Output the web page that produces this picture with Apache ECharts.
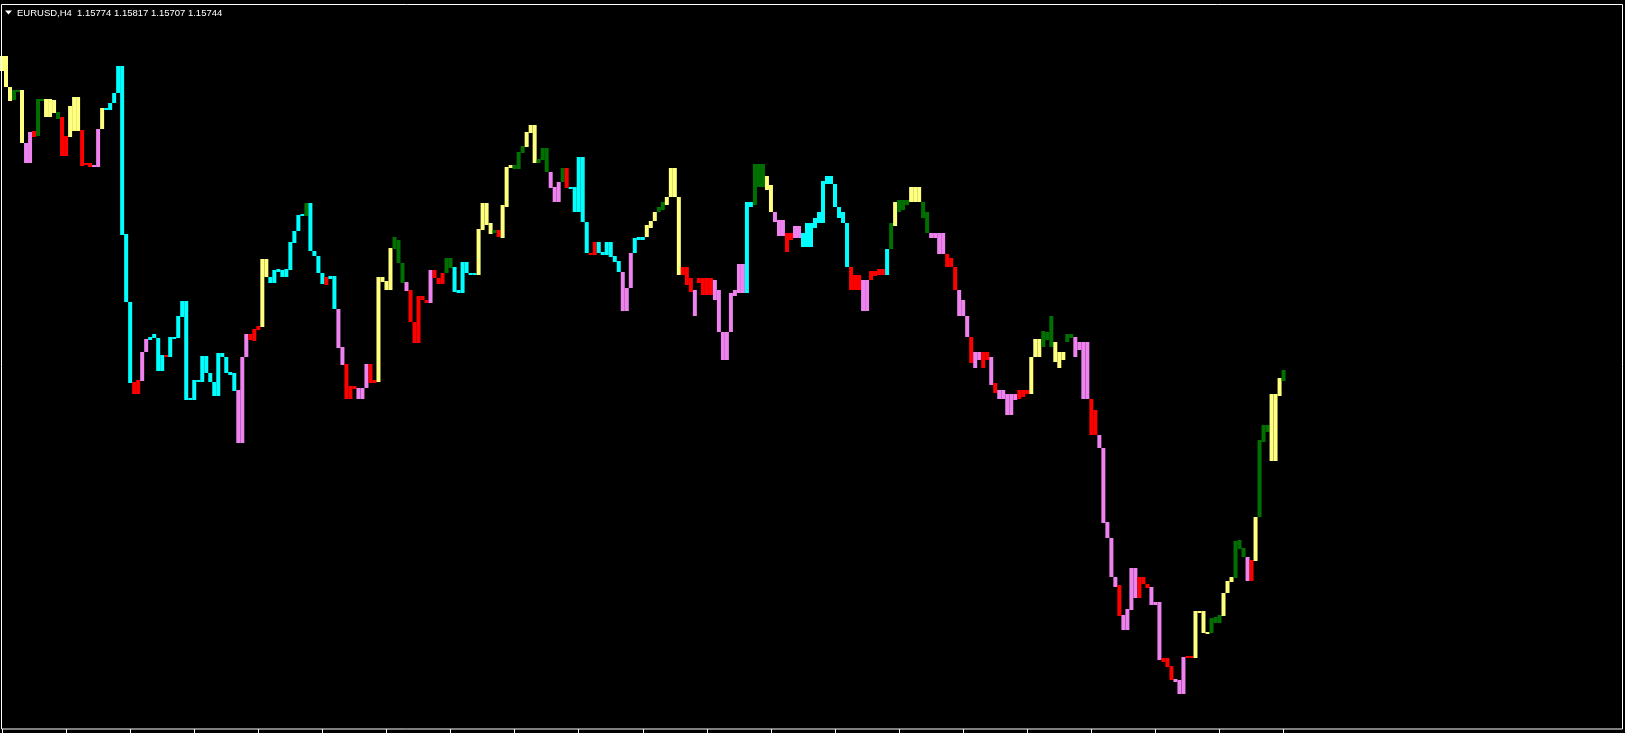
<!DOCTYPE html>
<html><head><meta charset="utf-8">
<style>html,body{margin:0;padding:0;background:#000;}#c{width:1625px;height:733px;}</style>
<script src="https://cdn.jsdelivr.net/npm/echarts@6/dist/echarts.min.js"></script>
</head><body><div id="c"></div>
<script>
const symbolTitle = "EURUSD,H4";
const quoteText = "1.15774 1.15817 1.15707 1.15744";
// per-bar indicator range (upper/lower price) and trend colour code
const barHigh = [
1.1894,1.1894,1.1863,1.1860,1.1860,1.1860,1.1807,1.1818,1.1819,1.1851,
1.1851,1.1851,1.1851,1.1850,1.1838,1.1833,1.1814,1.1844,1.1853,1.1853,
1.1820,1.1787,1.1787,1.1785,1.1821,1.1842,1.1842,1.1847,1.1857,1.1884,
1.1884,1.1716,1.1648,1.1568,1.1570,1.1598,1.1611,1.1613,1.1616,1.1612,
1.1595,1.1595,1.1613,1.1613,1.1634,1.1649,1.1649,1.1552,1.1570,1.1570,
1.1594,1.1594,1.1577,1.1568,1.1597,1.1597,1.1593,1.1578,1.1577,1.1560,
1.1593,1.1616,1.1616,1.1621,1.1624,1.1691,1.1691,1.1673,1.1680,1.1681,
1.1680,1.1681,1.1708,1.1719,1.1735,1.1736,1.1747,1.1747,1.1699,1.1694,
1.1677,1.1673,1.1674,1.1674,1.1641,1.1603,1.1586,1.1564,1.1564,1.1562,
1.1562,1.1586,1.1586,1.1570,1.1673,1.1673,1.1669,1.1702,1.1713,1.1710,
1.1687,1.1668,1.1660,1.1628,1.1654,1.1654,1.1650,1.1680,1.1680,1.1672,
1.1677,1.1692,1.1692,1.1683,1.1660,1.1688,1.1688,1.1677,1.1677,1.1721,
1.1747,1.1747,1.1727,1.1720,1.1720,1.1745,1.1783,1.1785,1.1785,1.1798,
1.1804,1.1818,1.1825,1.1825,1.1791,1.1802,1.1802,1.1778,1.1763,1.1768,
1.1782,1.1782,1.1763,1.1763,1.1793,1.1793,1.1728,1.1697,1.1708,1.1708,
1.1698,1.1708,1.1708,1.1694,1.1689,1.1678,1.1662,1.1697,1.1712,1.1713,
1.1713,1.1725,
1.1729,1.1738,1.1743,1.1748,1.1753,1.1782,1.1782,1.1753,1.1683,1.1683,
1.1672,1.1660,1.1672,1.1672,1.1672,1.1672,1.1670,1.1660,1.1618,1.1618,
1.1657,1.1660,1.1686,1.1686,1.1748,1.1748,1.1786,1.1786,1.1786,1.1774,
1.1765,1.1738,1.1730,1.1730,1.1717,1.1717,1.1724,1.1724,1.1717,1.1727,
1.1727,1.1732,1.1738,1.1769,1.1774,1.1774,1.1766,1.1743,1.1738,1.1727,
1.1683,1.1675,1.1675,1.1670,1.1670,1.1679,1.1679,1.1681,1.1681,1.1701,
1.1727,1.1748,1.1750,1.1750,1.1750,1.1763,1.1763,1.1763,1.1748,1.1738,
1.1717,1.1717,1.1717,1.1717,1.1696,1.1692,1.1683,1.1660,1.1650,1.1634,
1.1613,1.1598,1.1598,1.1598,1.1598,1.1593,1.1567,1.1560,1.1560,1.1556,
1.1556,1.1556,1.1560,1.1560,1.1560,1.1593,1.1611,1.1611,1.1619,1.1618,
1.1634,1.1608,1.1598,1.1598,1.1616,1.1616,1.1613,1.1608,1.1608,1.1608,
1.1551,1.1540,1.1515,1.1502,1.1428,1.1412,1.1373,1.1365,1.1335,1.1341,
1.1382,1.1382,1.1373,1.1373,1.1366,1.1363,1.1348,1.1348,1.1292,1.1292,
1.1284,1.1271,1.1270,1.1293,1.1294,1.1294,1.1339,1.1339,1.1339,1.1318,
1.1332,1.1333,1.1335,1.1357,1.1369,1.1373,1.1409,1.1410,1.1402,1.1393,
1.1390,1.1433,1.1510,1.1525,1.1525,1.1556,1.1556,1.1572,1.1580
];
const barLow = [
1.1879,1.1863,1.1849,1.1850,1.1858,1.1807,1.1787,1.1787,1.1813,1.1814,
1.1849,1.1833,1.1833,1.1837,1.1831,1.1794,1.1794,1.1813,1.1819,1.1819,
1.1784,1.1785,1.1783,1.1783,1.1783,1.1821,1.1840,1.1840,1.1847,1.1857,
1.1715,1.1648,1.1567,1.1556,1.1556,1.1569,1.1598,1.1610,1.1612,1.1579,
1.1579,1.1593,1.1593,1.1612,1.1612,1.1633,1.1550,1.1550,1.1550,1.1568,
1.1568,1.1577,1.1568,1.1554,1.1554,1.1593,1.1577,1.1575,1.1559,1.1507,
1.1507,1.1593,1.1610,1.1609,1.1620,1.1623,1.1673,1.1667,1.1667,1.1678,
1.1673,1.1673,1.1680,1.1707,1.1719,1.1734,1.1734,1.1699,1.1694,1.1677,
1.1666,1.1665,1.1671,1.1641,1.1602,1.1585,1.1551,1.1551,1.1561,1.1551,
1.1551,1.1562,1.1567,1.1567,1.1568,1.1668,1.1660,1.1660,1.1701,1.1687,
1.1667,1.1659,1.1628,1.1607,1.1607,1.1650,1.1647,1.1647,1.1672,1.1666,
1.1666,1.1677,1.1682,1.1658,1.1657,1.1657,1.1677,1.1675,1.1675,1.1675,
1.1720,1.1725,1.1716,1.1717,1.1713,1.1712,1.1743,1.1782,1.1781,1.1781,
1.1797,1.1803,1.1817,1.1787,1.1787,1.1790,1.1778,1.1762,1.1748,1.1748,
1.1768,1.1762,1.1761,1.1738,1.1738,1.1728,1.1697,1.1695,1.1695,1.1697,
1.1695,1.1695,1.1693,1.1688,1.1678,1.1639,1.1639,1.1662,1.1697,1.1710,
1.1710,1.1713,
1.1722,1.1729,1.1738,1.1740,1.1745,1.1753,1.1753,1.1675,1.1675,1.1665,
1.1658,1.1634,1.1667,1.1655,1.1655,1.1655,1.1650,1.1618,1.1590,1.1590,
1.1618,1.1654,1.1657,1.1657,1.1657,1.1743,1.1745,1.1763,1.1763,1.1760,
1.1738,1.1728,1.1714,1.1714,1.1698,1.1710,1.1712,1.1712,1.1703,1.1703,
1.1703,1.1722,1.1727,1.1727,1.1766,1.1766,1.1743,1.1732,1.1727,1.1683,
1.1660,1.1660,1.1660,1.1639,1.1639,1.1670,1.1674,1.1675,1.1675,1.1675,
1.1701,1.1724,1.1738,1.1740,1.1745,1.1748,1.1748,1.1748,1.1732,1.1717,
1.1712,1.1712,1.1696,1.1696,1.1683,1.1683,1.1660,1.1634,1.1634,1.1613,
1.1587,1.1582,1.1590,1.1582,1.1590,1.1565,1.1557,1.1551,1.1551,1.1535,
1.1535,1.1550,1.1551,1.1553,1.1556,1.1556,1.1593,1.1593,1.1603,1.1610,
1.1603,1.1588,1.1582,1.1590,1.1608,1.1612,1.1593,1.1600,1.1551,1.1551,
1.1515,1.1515,1.1502,1.1427,1.1412,1.1373,1.1363,1.1334,1.1320,1.1320,
1.1340,1.1352,1.1352,1.1366,1.1362,1.1345,1.1345,1.1290,1.1288,1.1283,
1.1270,1.1268,1.1256,1.1256,1.1292,1.1292,1.1292,1.1337,1.1317,1.1316,
1.1317,1.1327,1.1327,1.1334,1.1357,1.1368,1.1372,1.1401,1.1393,1.1369,
1.1369,1.1389,1.1433,1.1508,1.1518,1.1489,1.1489,1.1554,1.1569
];
const barTrend = (
"YYYGGYVVRG"+"GYYYGRRYYY"+"RRRVVYCCCC"+"CCCRRVVCCC"+"CRCCCCCCCC"+
"CCCCCCCCCV"+"VVRRRYYCCC"+"CCCCCCGCCC"+"CRCCVVRRRV"+"VVRRYYYYGG"+
"GVRRRRRVRR"+"RGGCCCCCCY"+"YYYGRYYYGG"+"GYYYGGGVVV"+"GRCCCCCRRC"+
"CCCCCVVVCC"+"CY"+
"YYGGYYYYRR"+"RVRRRRVVVV"+"VVVVCCGGGY"+"YVVVRRVVCC"+"CCCCCCCCCC"+
"RRRVVRRRRC"+"GYGGGYYYGG"+"VVVVRRRVVV"+"RVVRRVRVVV"+"VVRRRYYYGG"+
"GYYYGGVVVV"+"RRVVVVVRVV"+"VVRRRVVVRR"+"RVVVRRYYYY"+"GGGYYYGGGV"+
"RYGGGYYYG").split('');
const trendColors = {Y:'#FFFF80', G:'#007000', R:'#FF0000', V:'#EE82EE', C:'#00FFFF'};
const slotCount = 405;      // bar slots across the chart window
const tickEvery = 16;       // time tick every 16 bars
const lastTickBar = 320;

const cats = [];
for (let i = 0; i < slotCount; i++) cats.push(i);
const seriesData = barHigh.map((h, i) => [i, h, barLow[i], barTrend[i]]);

const chart = echarts.init(document.getElementById('c'), null, {renderer:'canvas'});
chart.setOption({
  backgroundColor: '#000',
  animation: false,
  grid: {left: 0, top: 4, width: 1622, height: 725, containLabel: false},
  xAxis: {
    type: 'category', data: cats, boundaryGap: true,
    axisLine: {show: false},
    axisLabel: {show: false},
    axisTick: {show: true, alignWithLabel: true, length: 4, inside: false,
      interval: function(idx){ return idx % tickEvery === 0 && idx <= lastTickBar; },
      lineStyle: {color: '#fff', width: 1}},
    splitLine: {show: false}
  },
  yAxis: {type: 'value', min: 1.1221, max: 1.1946, show: false, splitLine: {show: false}},
  series: [{
    type: 'custom',
    data: seriesData,
    encode: {x: 0, y: [1, 2]},
    renderItem: function(params, api) {
      const i = api.value(0);
      const p1 = api.coord([i, api.value(1)]);
      const p2 = api.coord([i, api.value(2)]);
      const w = api.size([1, 0])[0];
      let top = Math.min(p1[1], p2[1]);
      let h = Math.abs(p2[1] - p1[1]);
      if (h < 2) h = 2;
      const code = seriesData[params.dataIndex][3];
      return {type: 'rect', shape: {x: p1[0] - w/2, y: top, width: w, height: h},
        style: {fill: trendColors[code]}};
    }
  }],
  graphic: [
    {type: 'rect', shape: {x: 1.5, y: 4.5, width: 1621, height: 724.5},
     style: {fill: null, stroke: '#fff', lineWidth: 1}, silent: true, z: 10},
    {type: 'polygon', shape: {points: [[5,10.5],[12,10.5],[8.5,14.5]]},
     style: {fill: '#fff'}, z: 10},
    {type: 'text', x: 17, y: 13, style: {text: symbolTitle, fill: '#fff',
      font: '9.5px "Liberation Sans", Arial, sans-serif', textVerticalAlign: 'middle'}, z: 10},
    {type: 'text', x: 77, y: 13, style: {text: quoteText, fill: '#fff',
      font: '9.5px "Liberation Sans", Arial, sans-serif', textVerticalAlign: 'middle'}, z: 10}
  ]
});
</script></body></html>
